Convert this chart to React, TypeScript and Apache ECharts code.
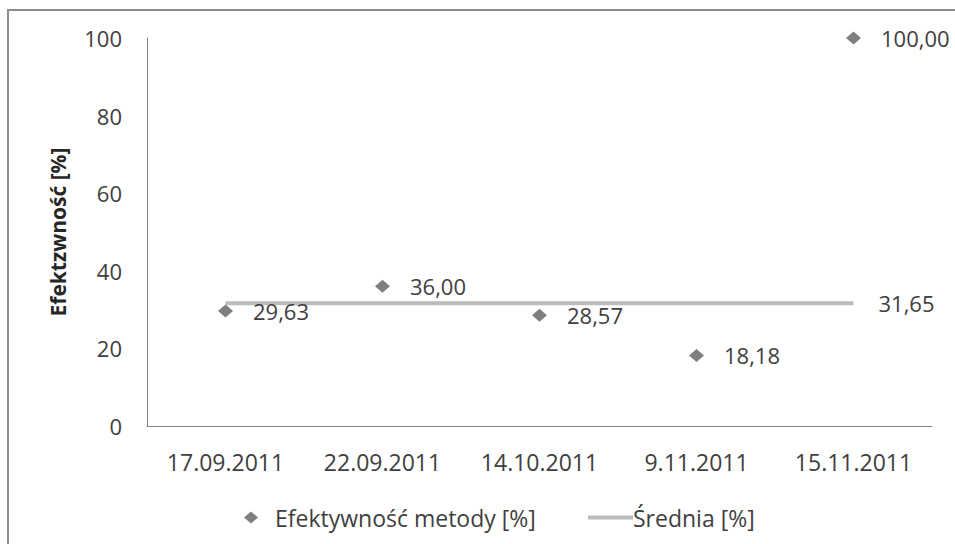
import React, { useEffect, useRef } from "react";
import * as echarts from "echarts";

const categories = ["17.09.2011", "22.09.2011", "14.10.2011", "9.11.2011", "15.11.2011"];
const efficiency = [29.63, 36.0, 28.57, 18.18, 100.0];
const average = [31.65, 31.65, 31.65, 31.65, 31.65];
const yTicks = { min: 0, max: 100, interval: 20 };

const fmt = (v: number) => v.toFixed(2).replace(".", ",");
const FONT = "'Open Sans', 'DejaVu Sans', sans-serif";
const TEXT = "#404040";

export default function App() {
  const ref = useRef<HTMLDivElement>(null);
  useEffect(() => {
    if (!ref.current) return;
    const chart = echarts.init(ref.current, undefined, { renderer: "svg" });
    chart.setOption({
      animation: false,
      backgroundColor: "#ffffff",
      textStyle: { fontFamily: FONT },
      graphic: [
        {
          type: "rect",
          shape: { x: 8, y: 10, width: 1000, height: 600 },
          style: { fill: "none", stroke: "#8c8c8c", lineWidth: 2 },
          silent: true,
        },
      ],
      grid: { left: 147, right: 23, top: 38, bottom: 118, containLabel: false },
      legend: [
        {
          data: [{ name: "Efektywność metody [%]", icon: "diamond" }],
          left: 239,
          top: 501,
          itemWidth: 14,
          itemHeight: 12,
          textStyle: { color: TEXT, fontSize: 23, fontFamily: FONT, padding: [0, 0, 0, 12] },
        },
        {
          data: [{ name: "Średnia [%]", icon: "rect" }],
          left: 583,
          top: 501,
          itemWidth: 45,
          itemHeight: 4,
          textStyle: { color: TEXT, fontSize: 23, fontFamily: FONT, padding: [0, 0, 0, -5] },
        },
      ],
      xAxis: {
        type: "category",
        data: categories,
        boundaryGap: true,
        axisLine: { lineStyle: { color: "#868686", width: 1 } },
        axisTick: { show: false },
        axisLabel: { color: TEXT, fontSize: 23, margin: 24, fontFamily: FONT },
        splitLine: { show: false },
      },
      yAxis: {
        type: "value",
        min: yTicks.min,
        max: yTicks.max,
        interval: yTicks.interval,
        name: "Efektzwność [%]",
        nameLocation: "middle",
        nameRotate: 90,
        nameGap: 79,
        nameTextStyle: { color: "#262626", fontSize: 21, fontWeight: "bold", fontFamily: FONT },
        axisLine: { show: true, lineStyle: { color: "#868686", width: 1 } },
        axisTick: { show: false },
        axisLabel: { color: TEXT, fontSize: 22, margin: 25, fontFamily: FONT },
        splitLine: { show: false },
      },
      series: [
        {
          name: "Średnia [%]",
          type: "line",
          data: average,
          symbol: "none",
          lineStyle: { color: "#bcbcbc", width: 4 },
          itemStyle: { color: "#bcbcbc" },
          endLabel: {
            show: true,
            formatter: (p: any) => fmt(p.value),
            color: TEXT,
            fontSize: 22,
            fontFamily: FONT,
            distance: 25,
          },
          z: 1,
        },
        {
          name: "Efektywność metody [%]",
          type: "scatter",
          data: efficiency,
          symbol: "diamond",
          symbolSize: [15, 13],
          itemStyle: { color: "#7f7f7f", opacity: 1 },
          label: {
            show: true,
            position: "right",
            distance: 20,
            formatter: (p: any) => fmt(p.value),
            color: TEXT,
            fontSize: 22,
            fontFamily: FONT,
          },
          z: 3,
        },
      ],
    });
    return () => chart.dispose();
  }, []);
  return (
    <div
      ref={ref}
      style={{ position: "absolute", left: 0, top: 0, width: 955, height: 544 }}
    />
  );
}
